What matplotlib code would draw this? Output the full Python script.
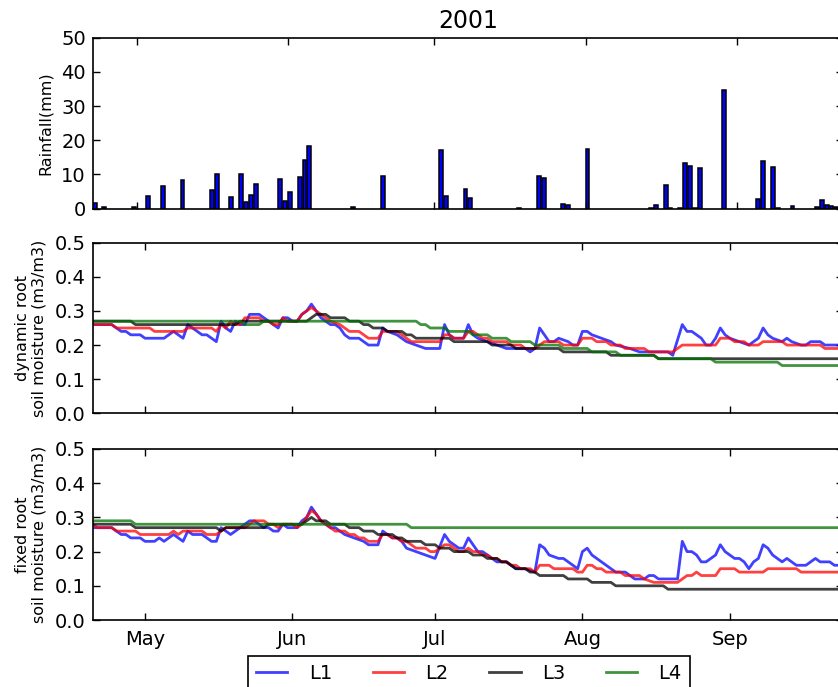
import matplotlib
matplotlib.use("Agg")
import matplotlib.pyplot as plt
import matplotlib.dates as mdates
from matplotlib.ticker import FormatStrFormatter
from datetime import datetime, timedelta

# ---------------- data (day offsets from 2001-04-20) ----------------
start_date = datetime(2001, 4, 20)

rain_day = [2, 4, 10, 13, 16, 20, 26, 27, 30, 32, 33, 34, 35, 40, 41, 42, 44, 45, 46, 55,
            61, 73, 74, 78, 79, 89, 93, 94, 98, 99, 103, 116, 117, 119, 120, 122, 123, 124, 125, 126,
            131, 138, 139, 141, 142, 145, 150, 151, 152, 153, 154]
rain_mm = [1.6, 0.4, 0.5, 3.8, 6.6, 8.4, 5.4, 10.2, 3.5, 10.2, 2.0, 4.1, 7.2, 8.7, 2.3, 4.9, 9.3, 14.2, 18.3, 0.6,
           9.6, 17.1, 3.8, 5.7, 3.0, 0.3, 9.7, 9.0, 1.4, 1.1, 17.6, 0.3, 1.1, 6.9, 0.3, 0.2, 13.5, 12.6, 0.3, 12.0,
           34.7, 2.8, 14.0, 12.3, 0.3, 0.8, 0.5, 2.5, 1.0, 0.8, 0.4]

# dynamic root soil moisture: (day, value)
dyn_L1 = [(0,.26),(4,.26),(5,.25),(6,.24),(7,.24),(8,.23),(10,.23),(11,.22),(15,.22),(16,.23),(17,.24),(18,.23),
          (19,.22),(20,.26),(21,.25),(22,.24),(23,.23),(24,.23),(25,.22),(26,.21),(27,.27),(28,.25),(29,.24),(30,.27),
          (31,.26),(32,.26),(33,.29),(35,.29),(36,.28),(37,.27),(38,.26),(39,.25),(40,.28),(41,.28),(42,.27),(43,.27),
          (44,.29),(45,.30),(46,.32),(47,.30),(48,.28),(49,.27),(50,.26),(51,.26),(52,.25),(53,.23),(54,.22),(56,.22),
          (57,.21),(58,.20),(60,.20),(61,.25),(62,.24),(64,.23),(65,.22),(66,.21),(68,.20),(70,.19),(73,.19),(74,.26),
          (75,.23),(76,.22),(78,.22),(79,.26),(80,.23),(81,.22),(83,.21),(85,.20),(87,.19),(91,.19),(92,.18),(93,.19),
          (94,.25),(95,.23),(96,.21),(97,.21),(98,.22),(100,.21),(101,.20),(102,.20),(103,.24),(104,.24),(105,.23),
          (107,.22),(109,.21),(110,.20),(113,.19),(115,.18),(121,.18),(122,.17),(124,.26),(125,.24),(126,.24),(127,.23),
          (128,.22),(129,.20),(130,.20),(131,.22),(132,.25),(133,.23),(134,.22),(136,.21),(138,.20),(139,.21),(140,.22),
          (141,.25),(142,.23),(143,.22),(145,.21),(146,.22),(147,.21),(149,.20),(150,.20),(151,.21),(153,.21),(154,.20),
          (158,.20)]
dyn_L2 = [(0,.26),(4,.26),(5,.25),(12,.25),(13,.24),(19,.24),(20,.25),(25,.25),(26,.24),(27,.26),(28,.25),(29,.27),
          (30,.26),(31,.26),(32,.28),(35,.28),(36,.27),(37,.27),(38,.26),(39,.26),(40,.28),(41,.27),(43,.27),(44,.29),
          (45,.30),(46,.31),(47,.30),(48,.29),(49,.28),(50,.27),(52,.26),(53,.25),(54,.24),(56,.24),(57,.23),(58,.22),
          (60,.22),(61,.24),(64,.24),(65,.23),(66,.22),(67,.21),(73,.21),(74,.23),(75,.23),(76,.22),(78,.22),(79,.24),
          (80,.24),(81,.23),(82,.22),(83,.22),(84,.21),(87,.21),(88,.20),(90,.20),(91,.19),(93,.19),(94,.20),(95,.21),
          (98,.21),(99,.20),(102,.20),(103,.22),(105,.22),(106,.21),(108,.21),(109,.20),(111,.20),(112,.19),(116,.19),
          (117,.18),(122,.18),(123,.19),(124,.20),(131,.20),(132,.22),(134,.22),(135,.21),(137,.21),(138,.20),(140,.20),
          (141,.21),(145,.21),(146,.20),(153,.20),(154,.19),(158,.19)]
dyn_L3 = [(0,.27),(8,.27),(9,.26),(30,.26),(31,.27),(45,.27),(46,.28),(47,.29),(49,.29),(50,.28),(53,.28),(54,.27),
          (56,.27),(57,.26),(58,.26),(59,.25),(61,.25),(62,.24),(65,.24),(66,.23),(67,.23),(68,.22),(75,.22),(76,.21),
          (83,.21),(84,.20),(88,.20),(89,.19),(98,.19),(99,.18),(108,.18),(109,.17),(118,.17),(119,.16),(158,.16)]
dyn_L4 = [(0,.27),(31,.27),(32,.26),(35,.26),(36,.27),(68,.27),(69,.26),(70,.26),(71,.25),(74,.25),(75,.24),(79,.24),
          (80,.23),(83,.23),(84,.22),(87,.22),(88,.21),(92,.21),(93,.20),(98,.20),(99,.19),(104,.19),(105,.18),(110,.18),
          (111,.17),(118,.17),(119,.16),(130,.16),(131,.15),(144,.15),(145,.14),(158,.14)]

# fixed root soil moisture: (day, value)
fix_L1 = [(0,.27),(4,.27),(5,.26),(6,.25),(7,.25),(8,.24),(10,.24),(11,.23),(13,.23),(14,.24),(15,.23),(16,.24),
          (17,.25),(18,.24),(19,.23),(20,.26),(21,.25),(23,.25),(24,.24),(25,.23),(26,.23),(27,.27),(28,.26),(29,.25),
          (30,.26),(31,.27),(32,.28),(33,.29),(34,.29),(35,.28),(36,.27),(37,.27),(38,.26),(39,.26),(40,.28),(41,.27),
          (43,.27),(44,.29),(45,.30),(46,.33),(47,.31),(48,.29),(49,.28),(50,.27),(51,.27),(52,.26),(53,.25),(55,.24),
          (57,.23),(58,.22),(60,.22),(61,.26),(62,.25),(63,.24),(64,.24),(65,.23),(66,.21),(68,.20),(70,.19),(72,.18),
          (74,.25),(75,.23),(76,.22),(77,.21),(78,.21),(79,.24),(80,.22),(81,.20),(82,.20),(83,.19),(84,.18),(85,.17),
          (87,.17),(89,.15),(91,.15),(93,.14),(94,.22),(95,.21),(96,.19),(98,.18),(99,.18),(100,.17),(101,.16),(102,.15),
          (103,.20),(104,.21),(105,.19),(106,.18),(107,.17),(108,.16),(109,.15),(110,.14),(112,.14),(113,.13),(114,.12),
          (116,.12),(117,.13),(118,.13),(119,.12),(123,.12),(124,.23),(125,.20),(126,.20),(127,.19),(128,.17),(129,.17),
          (130,.18),(131,.19),(132,.22),(133,.20),(134,.19),(135,.18),(136,.18),(137,.17),(138,.15),(139,.17),(140,.18),
          (141,.22),(142,.21),(143,.19),(144,.18),(145,.17),(146,.18),(147,.17),(148,.16),(150,.16),(151,.17),(152,.18),
          (153,.17),(155,.17),(156,.16),(158,.16)]
fix_L2 = [(0,.28),(1,.27),(4,.27),(5,.26),(9,.26),(10,.25),(16,.25),(17,.26),(18,.25),(19,.26),(23,.26),(24,.25),
          (26,.25),(27,.26),(28,.27),(32,.27),(33,.28),(34,.29),(36,.29),(37,.28),(38,.28),(39,.27),(40,.28),(42,.28),
          (43,.27),(44,.28),(45,.30),(46,.32),(47,.31),(48,.29),(49,.28),(50,.27),(51,.26),(53,.26),(54,.25),(55,.25),
          (56,.24),(57,.24),(58,.23),(60,.23),(61,.25),(62,.25),(63,.24),(64,.24),(65,.23),(66,.23),(67,.22),(68,.21),
          (70,.21),(71,.20),(72,.20),(73,.21),(74,.22),(75,.22),(76,.21),(77,.20),(78,.20),(79,.21),(80,.20),(81,.20),
          (82,.19),(83,.19),(84,.18),(85,.18),(86,.17),(87,.17),(88,.16),(89,.16),(90,.15),(92,.15),(93,.14),(94,.16),
          (96,.16),(97,.15),(101,.15),(102,.14),(103,.14),(104,.16),(105,.16),(106,.15),(107,.15),(108,.14),(111,.14),
          (112,.13),(115,.13),(116,.12),(118,.11),(123,.11),(124,.12),(125,.13),(126,.13),(127,.14),(128,.13),(131,.13),
          (132,.15),(135,.15),(136,.14),(141,.14),(142,.15),(148,.15),(149,.14),(158,.14)]
fix_L3 = [(0,.28),(8,.28),(9,.27),(26,.27),(27,.26),(28,.27),(36,.27),(37,.28),(44,.28),(45,.29),(46,.30),(47,.29),
          (49,.29),(50,.28),(53,.28),(54,.27),(56,.27),(57,.26),(59,.26),(60,.25),(63,.25),(64,.24),(65,.24),(66,.23),
          (69,.23),(70,.22),(72,.22),(73,.21),(75,.21),(76,.20),(79,.20),(80,.19),(82,.19),(83,.18),(85,.18),(86,.17),
          (87,.17),(88,.16),(89,.15),(91,.15),(92,.14),(93,.14),(94,.13),(99,.13),(100,.12),(104,.12),(105,.11),
          (109,.11),(110,.10),(120,.10),(121,.09),(158,.09)]
fix_L4 = [(0,.29),(8,.29),(9,.28),(66,.28),(67,.27),(158,.27)]

series_names = ["L1", "L2", "L3", "L4"]
series_colors = ["#0000ff", "#ff0000", "#000000", "#007000"]

# ---------------- helpers ----------------
def to_dates(days):
    return [start_date + timedelta(days=d) for d in days]

def unzip(pairs):
    d = [p[0] for p in pairs]
    v = [p[1] for p in pairs]
    return to_dates(d), v

W, H = 838, 687
def rect(l, t, r, b):
    return [l / W, 1 - b / H, (r - l) / W, (b - t) / H]

plt.rcParams['font.family'] = ['DejaVu Sans']

fig = plt.figure(figsize=(W / 100, H / 100), dpi=100)
ax1 = fig.add_axes(rect(92.7, 37.7, 843, 208.7))
ax2 = fig.add_axes(rect(92.7, 242.7, 843, 413.3))
ax3 = fig.add_axes(rect(92.7, 449, 843, 620))

# rainfall bars
ax1.bar(to_dates(rain_day), rain_mm, width=0.8, align='edge',
        color='#0000ff', edgecolor='black', linewidth=1.1)
ax1.set_ylim(0, 50)
ax1.set_yticks([0, 10, 20, 30, 40, 50])
ax1.set_xlim(start_date + timedelta(days=2), start_date + timedelta(days=155.75))
ax1.set_title('2001', fontsize=17, pad=7)
ax1.set_ylabel('Rainfall(mm)', fontsize=11.5)
ax1.yaxis.set_label_coords(-0.053, 0.5)

handles = []
for ax, group in ((ax2, [dyn_L1, dyn_L2, dyn_L3, dyn_L4]), (ax3, [fix_L1, fix_L2, fix_L3, fix_L4])):
    hs = []
    for pairs, name, col in zip(group, series_names, series_colors):
        x, y = unzip(pairs)
        h, = ax.plot(x, y, color=col, alpha=0.75, lw=2.0, label=name)
        hs.append(h)
    handles = hs
    ax.set_ylim(0, 0.5)
    ax.set_yticks([0.0, 0.1, 0.2, 0.3, 0.4, 0.5])
    ax.yaxis.set_major_formatter(FormatStrFormatter('%.1f'))
    ax.set_xlim(start_date, start_date + timedelta(days=157.8))

ax2.set_ylabel('dynamic root\nsoil moisture (m3/m3)', fontsize=11.5)
ax3.set_ylabel('fixed root\nsoil moisture (m3/m3)', fontsize=11.5)
ax2.yaxis.set_label_coords(-0.061, 0.5)
ax3.yaxis.set_label_coords(-0.061, 0.5)

for ax in (ax1, ax2, ax3):
    ax.xaxis.set_major_locator(mdates.MonthLocator())
    ax.xaxis.set_major_formatter(mdates.DateFormatter('%b'))
    ax.tick_params(direction='in', top=True, right=True, length=5, width=1,
                   labelsize=14, pad=5)
    for s in ax.spines.values():
        s.set_linewidth(1.2)
for ax in (ax1, ax2):
    ax.tick_params(labelbottom=False)
ax3.tick_params(axis='x', pad=7)

leg = fig.legend(handles, series_names, loc='upper center',
                 bbox_to_anchor=(469 / W, 1 - 656 / H), ncol=4, fontsize=14,
                 frameon=True, fancybox=False, edgecolor='black', framealpha=1,
                 handlelength=1.6, handletextpad=1.1, columnspacing=2.1,
                 borderaxespad=0)
leg.get_frame().set_linewidth(1.2)

fig.savefig('out.png', dpi=100)
